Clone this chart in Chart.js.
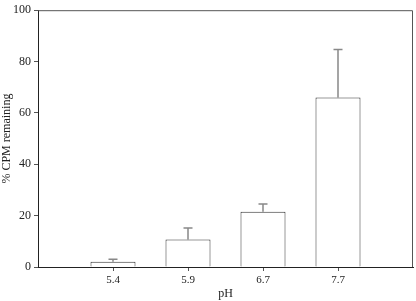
<!DOCTYPE html>
<html>
<head>
<meta charset="utf-8">
<script src="https://cdn.jsdelivr.net/npm/chart.js@4"></script>
<style>
  html, body { margin: 0; padding: 0; background: #fff; }
  #wrap { width: 416px; height: 301px; }
</style>
</head>
<body>
<div id="wrap"><canvas id="phChart" width="416" height="301"></canvas></div>
<script>
// pH categories (blank slots at both ends keep the bars spaced like the original)
const phLabels = ['', '5.4', '5.9', '6.7', '7.7', ''];
const cpmRemaining = [null, 2, 10.7, 21.5, 66, null];
const errorUpper = [null, 3, 15.2, 24.5, 84.7, null];
const yTicks = [0, 20, 40, 60, 80, 100];

const serif = "'Liberation Serif', 'Times New Roman', serif";

// box around the plot area
const frame = {
    id: 'frame',
    afterDraw(chart) {
        const a = chart.chartArea, ctx = chart.ctx;
        ctx.save();
        ctx.strokeStyle = '#555';
        ctx.lineWidth = 1;
        ctx.beginPath();
        ctx.moveTo(a.left, a.top + 0.5);
        ctx.lineTo(a.right - 0.5, a.top + 0.5);
        ctx.lineTo(a.right - 0.5, a.bottom);
        ctx.stroke();
        ctx.restore();
    }
};

// upper error bars only
const errorBars = {
    id: 'errorBars',
    beforeDatasetsDraw(chart) {
        const x = chart.scales.x, y = chart.scales.y, ctx = chart.ctx;
        ctx.save();
        ctx.strokeStyle = '#888';
        ctx.lineWidth = 1.5;
        errorUpper.forEach((e, i) => {
            if (e == null) return;
            const px = Math.round(x.getPixelForValue(i));
            const top = y.getPixelForValue(e);
            const base = y.getPixelForValue(cpmRemaining[i]);
            ctx.beginPath();
            ctx.moveTo(px, base);
            ctx.lineTo(px, top);
            ctx.moveTo(px - 4.5, top);
            ctx.lineTo(px + 4.5, top);
            ctx.stroke();
        });
        ctx.restore();
    }
};

new Chart(document.getElementById('phChart').getContext('2d'), {
    type: 'bar',
    data: {
        labels: phLabels,
        datasets: [{
            data: cpmRemaining,
            backgroundColor: '#fff',
            borderColor: '#333',
            borderWidth: 1,
            barPercentage: 0.6,
            categoryPercentage: 1
        }]
    },
    options: {
        responsive: false,
        animation: false,
        layout: { padding: { top: 3, right: 1, left: 0, bottom: 0 } },
        plugins: {
            legend: { display: false },
            tooltip: { enabled: false }
        },
        scales: {
            x: {
                offset: false,
                grid: {
                    display: true, offset: false, drawOnChartArea: false, tickLength: 4,
                    color: (c) => (c.index === 0 || c.index === phLabels.length - 1) ? 'rgba(0,0,0,0)' : '#555'
                },
                border: { color: '#222' },
                ticks: { color: '#222', font: { family: serif, size: 11 }, padding: 3, maxRotation: 0 },
                title: { display: true, text: 'pH', color: '#222', font: { family: serif, size: 12 }, padding: { top: 1, bottom: 0 } },
                afterFit(s) { s.height = 34; }
            },
            y: {
                min: 0,
                max: 100,
                afterBuildTicks(s) { s.ticks = yTicks.map(v => ({ value: v })); },
                grid: { display: true, drawOnChartArea: false, tickLength: 4, color: '#555' },
                border: { color: '#222' },
                ticks: { color: '#222', font: { family: serif, size: 12 }, padding: 3 },
                title: { display: true, text: '% CPM remaining', color: '#222', font: { family: serif, size: 12 }, padding: { top: 0, bottom: 0 } },
                afterFit(s) { s.width = 38; }
            }
        }
    },
    plugins: [frame, errorBars]
});
</script>
</body>
</html>
